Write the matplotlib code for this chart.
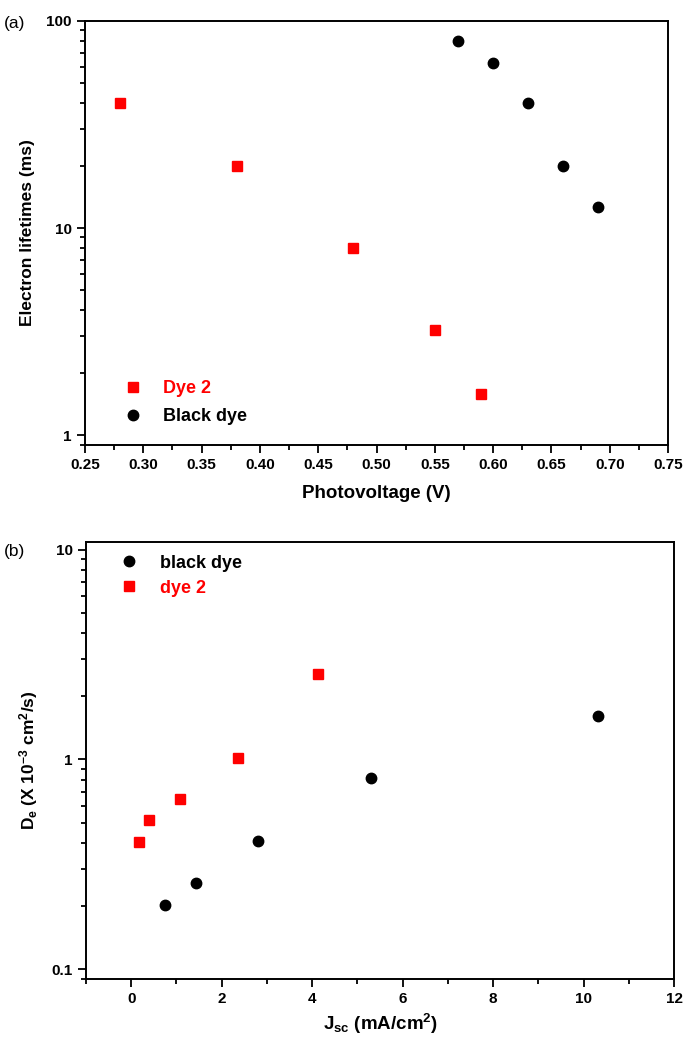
import numpy as np
import matplotlib.pyplot as plt
from matplotlib.ticker import LogLocator, MultipleLocator, FixedLocator, NullFormatter

plt.rcParams['font.family'] = ['Liberation Sans', 'DejaVu Sans']
plt.rcParams['font.weight'] = 'bold'
plt.rcParams['axes.labelweight'] = 'bold'
plt.rcParams['mathtext.fontset'] = 'custom'
plt.rcParams['mathtext.rm'] = 'Liberation Sans:bold'
plt.rcParams['mathtext.it'] = 'Liberation Sans:bold'
plt.rcParams['mathtext.bf'] = 'Liberation Sans:bold'
plt.rcParams['mathtext.default'] = 'rm'

# ---- data: (a) electron lifetime vs photovoltage
dye2_v = [0.28, 0.38, 0.48, 0.55, 0.59]
dye2_tau = [40, 20, 8.0, 3.2, 1.58]
black_v = [0.57, 0.60, 0.63, 0.66, 0.69]
black_tau = [80, 63, 40, 20, 12.6]

# ---- data: (b) diffusion coefficient vs Jsc
black_jsc = [0.75, 1.44, 2.80, 5.31, 10.33]
black_de = [0.203, 0.256, 0.41, 0.813, 1.62]
dye2_jsc = [0.17, 0.39, 1.07, 2.37, 4.14]
dye2_de = [0.406, 0.512, 0.645, 1.02, 2.57]

RED = '#ff0000'
MS = 7.5

fig = plt.figure(figsize=(6.84, 10.39), dpi=100)
ax_a = fig.add_axes([0.1243, 0.5717, 0.8523, 0.4081])
ax_b = fig.add_axes([0.1257, 0.0577, 0.8597, 0.4206])


def style_axes(ax):
    for s in ax.spines.values():
        s.set_linewidth(1.4)
    ax.tick_params(which='both', direction='out', width=1.3, labelsize=11,
                   top=False, right=False)
    ax.tick_params(which='major', length=6)
    ax.tick_params(which='minor', length=3.5)
    ax.yaxis.set_minor_formatter(NullFormatter())


# ---------------- panel (a)
ax_a.plot(dye2_v, dye2_tau, 's', color=RED, ms=MS * 0.95, ls='none', label='Dye 2')
ax_a.plot(black_v, black_tau, 'o', color='black', ms=MS, ls='none', label='Black dye')
ax_a.set_yscale('log')
ax_a.set_xlim(0.25, 0.75)
ax_a.set_ylim(0.895, 100)
ax_a.xaxis.set_major_locator(MultipleLocator(0.05))
ax_a.xaxis.set_minor_locator(MultipleLocator(0.025))
ax_a.set_xticklabels([f'{v:.2f}' for v in ax_a.get_xticks()])
ax_a.yaxis.set_major_locator(FixedLocator([1, 10, 100]))
ax_a.set_yticklabels(['1', '10', '100'])
ax_a.yaxis.set_minor_locator(LogLocator(base=10, subs=np.arange(2, 10)))
style_axes(ax_a)
ax_a.set_xlabel('Photovoltage (V)', fontsize=13.5, labelpad=9)
ax_a.set_ylabel('Electron lifetimes (ms)', fontsize=12.5, labelpad=8)
leg_a = ax_a.legend(loc='lower left', bbox_to_anchor=(0.035, 0.017), frameon=False,
                    fontsize=13, handletextpad=0.9, labelspacing=0.6,
                    borderaxespad=0.3, handlelength=1.6)
for txt, c in zip(leg_a.get_texts(), [RED, 'black']):
    txt.set_color(c)
fig.text(0.005, 0.977, '(a)', fontsize=12.5, fontweight='normal', va='center')

# ---------------- panel (b)
ax_b.plot(black_jsc, black_de, 'o', color='black', ms=MS, ls='none', label='black dye')
ax_b.plot(dye2_jsc, dye2_de, 's', color=RED, ms=MS * 0.95, ls='none', label='dye 2')
ax_b.set_yscale('log')
ax_b.set_xlim(-1, 12)
ax_b.set_ylim(0.0896, 10.9)
ax_b.xaxis.set_major_locator(MultipleLocator(2))
ax_b.xaxis.set_minor_locator(MultipleLocator(1))
ax_b.yaxis.set_major_locator(FixedLocator([0.1, 1, 10]))
ax_b.set_yticklabels(['0.1', '1', '10'])
ax_b.yaxis.set_minor_locator(LogLocator(base=10, subs=np.arange(2, 10)))
style_axes(ax_b)
ax_b.set_xlabel(r'J$_{sc}$ (mA/cm$^{2}$)', fontsize=13.5, labelpad=4)
ax_b.set_ylabel(r'D$_{e}$ (X 10$^{-3}$ cm$^{2}$/s)', fontsize=12.5, labelpad=8)
leg_b = ax_b.legend(loc='upper left', bbox_to_anchor=(0.027, 1.0), frameon=False,
                    fontsize=13, handletextpad=0.9, labelspacing=0.45,
                    borderaxespad=0.3, handlelength=1.6)
for txt, c in zip(leg_b.get_texts(), ['black', RED]):
    txt.set_color(c)
fig.text(0.005, 0.469, '(b)', fontsize=12.5, fontweight='normal', va='center')

fig.savefig('out.png', dpi=100)
